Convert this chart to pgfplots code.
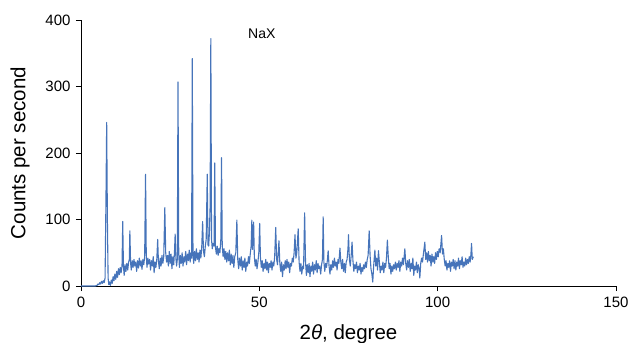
\documentclass[border=0pt]{standalone}
\usepackage{pgfplots}
\pgfplotsset{compat=1.18}
\usepackage{fontspec}
\setmainfont{Liberation Sans}
\definecolor{xrd}{RGB}{70,116,186}
\begin{document}
\begin{tikzpicture}
\begin{axis}[
  scale only axis, width=535pt, height=266pt,
  xmin=0, xmax=150, ymin=0, ymax=400,
  axis x line=bottom, axis y line=left,
  axis line style={-, black, line width=0.8pt},
  xtick={0,50,100,150}, ytick={0,100,200,300,400},
  tick align=outside, major tick length=5pt,
  tick style={black, line width=0.8pt},
  /pgf/number format/assume math mode=true,
  ticklabel style={font=\fontsize{15}{17}\selectfont},
  xticklabel style={yshift=-2pt},
  yticklabel style={xshift=-2pt},
  xlabel={2\textit{θ}, degree},
  ylabel={Counts per second},
  every axis x label/.style={at={(axis description cs:0.5,0)}, anchor=center, yshift=-48pt, font=\fontsize{20.5}{24}\selectfont},
  every axis y label/.style={at={(axis description cs:0,0.5)}, xshift=-61pt, anchor=center, rotate=90, font=\fontsize{20.5}{24}\selectfont},
  clip=false,
]
\addplot[color=xrd, line width=1.1pt, line join=round] coordinates {
(0,0) (4,0) (4.5,1) (4.75,3) (5,2) (5.25,5) (5.5,3) (5.75,7) (6,4) (6.25,8) (6.5,5) (6.75,12) (7.0,130) (7.2,246) (7.4,100) (7.6,12) (7.8,2) (8.0,6) (8.25,1) (8.5,9) (8.75,4) (9.0,14) (9.25,8) (9.5,18) (9.75,10) (10.0,22) (10.25,13) (10.5,26) (10.75,17) (11.0,28) (11.25,20) (11.5,30) (11.7,97) (11.9,30) (12.1,16) (12.35,32) (12.6,22) (12.85,34) (13.1,24) (13.35,36) (13.55,40) (13.7,83) (13.9,35) (14.1,24) (14.35,38) (14.6,28) (14.85,40) (15.1,30) (15.35,36) (15.6,22) (15.85,38) (16.1,27) (16.35,42) (16.6,30) (16.85,38) (17.1,25) (17.35,40) (17.6,32) (17.85,44) (18.1,168) (18.3,46) (18.5,28) (18.75,42) (19.0,33) (19.25,40) (19.5,24) (19.75,38) (20.0,30) (20.25,44) (20.5,20) (20.75,36) (21.0,28) (21.25,40) (21.5,70) (21.7,38) (21.95,26) (22.2,42) (22.45,30) (22.7,46) (22.95,34) (23.2,44) (23.5,118) (23.75,50) (24.0,36) (24.25,46) (24.5,30) (24.75,52) (25.0,34) (25.25,48) (25.5,26) (25.75,44) (26.0,32) (26.2,50) (26.4,78) (26.6,42) (26.8,30) (27.0,40) (27.2,307) (27.4,48) (27.6,28) (27.85,46) (28.1,34) (28.35,50) (28.6,30) (28.85,44) (29.1,36) (29.35,52) (29.6,32) (29.85,48) (30.1,38) (30.35,54) (30.6,36) (30.85,50) (31.0,42) (31.2,342) (31.4,46) (31.6,34) (31.85,52) (32.1,38) (32.35,56) (32.6,40) (32.85,50) (33.1,36) (33.35,54) (33.6,42) (33.85,58) (34.1,97) (34.35,52) (34.6,44) (34.85,60) (35.1,70) (35.4,168) (35.6,62) (35.8,60) (36.0,80) (36.2,120) (36.4,372) (36.6,70) (36.8,56) (37.0,64) (37.3,60) (37.5,185) (37.7,58) (37.95,48) (38.2,60) (38.45,46) (38.7,56) (38.95,50) (39.2,70) (39.4,193) (39.6,60) (39.85,44) (40.1,56) (40.35,40) (40.6,52) (40.85,36) (41.1,50) (41.35,38) (41.6,54) (41.85,32) (42.1,48) (42.35,34) (42.6,46) (42.85,28) (43.1,44) (43.4,50) (43.7,99) (43.95,40) (44.2,26) (44.45,42) (44.7,30) (44.95,44) (45.2,24) (45.45,38) (45.7,28) (45.95,42) (46.2,22) (46.45,36) (46.7,30) (46.95,44) (47.2,34) (47.45,48) (47.7,60) (47.9,99) (48.1,55) (48.4,96) (48.6,44) (48.85,30) (49.1,40) (49.35,26) (49.6,36) (49.85,50) (50.1,94) (50.3,44) (50.55,28) (50.8,38) (51.05,22) (51.3,34) (51.55,26) (51.8,40) (52.05,24) (52.3,36) (52.55,20) (52.8,34) (53.05,28) (53.3,38) (53.55,24) (53.8,36) (54.05,30) (54.3,44) (54.6,88) (54.85,40) (55.1,32) (55.5,68) (55.75,34) (56.0,22) (56.25,36) (56.5,14) (56.75,32) (57.0,24) (57.25,38) (57.5,26) (57.75,40) (58.0,28) (58.25,36) (58.5,20) (58.75,34) (59.0,30) (59.25,42) (59.5,36) (59.75,50) (60.0,77) (60.25,42) (60.5,50) (60.9,86) (61.15,36) (61.4,22) (61.65,34) (61.9,18) (62.15,30) (62.4,26) (62.7,110) (62.95,36) (63.2,16) (63.45,32) (63.7,20) (63.95,34) (64.2,14) (64.45,30) (64.7,22) (64.95,36) (65.2,18) (65.45,32) (65.7,24) (65.95,38) (66.2,20) (66.45,34) (66.7,26) (66.95,30) (67.2,18) (67.45,32) (67.7,40) (67.9,104) (68.1,36) (68.35,22) (68.6,34) (68.85,28) (69.1,40) (69.3,53) (69.55,30) (69.8,18) (70.05,32) (70.3,24) (70.55,38) (70.8,28) (71.05,42) (71.3,30) (71.55,36) (71.8,24) (72.05,40) (72.3,34) (72.6,57) (72.85,36) (73.1,26) (73.35,40) (73.6,22) (73.85,34) (74.1,20) (74.35,36) (74.6,40) (74.85,56) (75.0,77) (75.25,40) (75.5,30) (75.75,46) (76.0,66) (76.25,38) (76.5,22) (76.75,32) (77.0,26) (77.25,36) (77.5,20) (77.75,30) (78.0,24) (78.25,34) (78.5,18) (78.75,28) (79.0,22) (79.25,32) (79.5,26) (79.75,36) (80.0,28) (80.25,40) (80.5,46) (80.8,83) (81.05,46) (81.3,26) (81.55,18) (81.8,6) (82.05,30) (82.4,54) (82.65,30) (82.9,42) (83.15,24) (83.4,53) (83.65,36) (83.9,20) (84.15,30) (84.4,24) (84.65,36) (84.9,20) (85.15,34) (85.4,28) (85.65,42) (85.9,69) (86.15,44) (86.4,26) (86.65,34) (86.9,18) (87.15,30) (87.4,22) (87.65,32) (87.9,26) (88.15,36) (88.4,24) (88.65,34) (88.9,28) (89.15,38) (89.4,22) (89.65,36) (89.9,30) (90.15,42) (90.4,32) (90.8,56) (91.05,34) (91.3,24) (91.55,38) (91.8,28) (92.05,40) (92.3,22) (92.55,34) (92.8,26) (93.05,42) (93.3,16) (93.55,30) (93.8,24) (94.05,36) (94.3,20) (94.55,32) (94.8,26) (95.0,12) (95.25,34) (95.5,42) (95.75,36) (96.0,48) (96.4,66) (96.65,40) (96.9,50) (97.15,36) (97.4,52) (97.65,38) (97.9,46) (98.15,30) (98.4,48) (98.65,36) (98.9,44) (99.15,34) (99.4,50) (99.65,40) (99.9,52) (100.15,44) (100.4,56) (100.7,50) (101.1,76) (101.35,48) (101.6,56) (101.85,40) (102.1,30) (102.35,38) (102.6,24) (102.85,34) (103.1,28) (103.35,38) (103.6,22) (103.85,36) (104.1,30) (104.35,40) (104.6,26) (104.85,38) (105.1,24) (105.35,36) (105.6,30) (105.85,42) (106.1,26) (106.35,38) (106.6,32) (106.85,44) (107.1,28) (107.35,36) (107.6,30) (107.85,42) (108.1,32) (108.35,40) (108.6,34) (108.85,44) (109.1,36) (109.3,46) (109.5,64) (109.7,40) (110.0,44)
};
\node[font=\fontsize{14}{16}\selectfont] at (axis cs:50.7,380) {NaX};
\end{axis}
\pgfresetboundingbox
\path (-81pt,-57pt) rectangle (549pt,286pt);
\end{tikzpicture}
\end{document}
